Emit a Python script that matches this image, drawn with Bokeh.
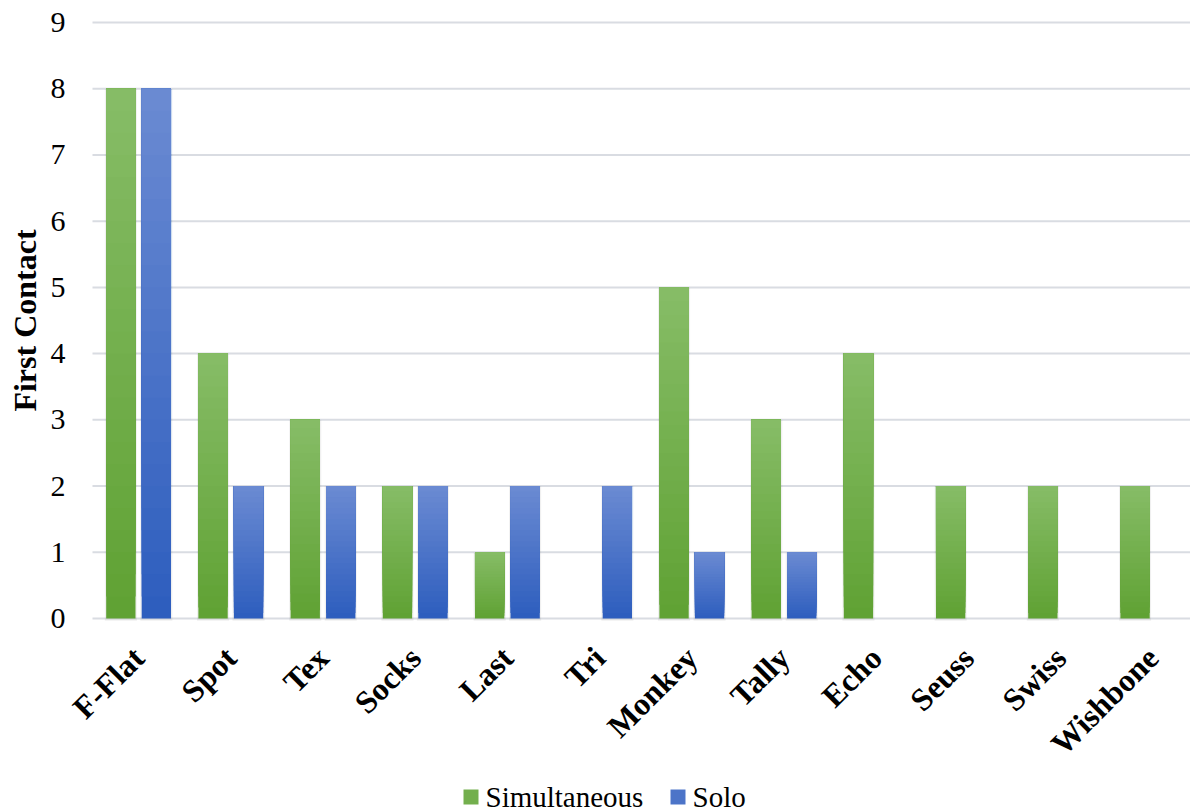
import math
import numpy as np
from bokeh.plotting import figure
from bokeh.models import Range1d, Label
from bokeh.embed import file_html
from bokeh.resources import INLINE

# ---- data ----
categories = ["F-Flat", "Spot", "Tex", "Socks", "Last", "Tri",
              "Monkey", "Tally", "Echo", "Seuss", "Swiss", "Wishbone"]
simultaneous = [8, 4, 3, 2, 1, 0, 5, 3, 4, 2, 2, 2]
solo = [8, 2, 2, 2, 2, 2, 1, 1, 0, 0, 0, 0]
y_ticks = [0, 1, 2, 3, 4, 5, 6, 7, 8, 9]
y_title = "First Contact"
series_names = ["Simultaneous", "Solo"]

# ---- style ----
W, H = 1190, 811
GRID_LEFT = 92          # screen x where the category area starts
TOP_PX = 22             # screen y of value 9
ZERO_PX = 618           # screen y of value 0
CAT_PX = 92.2
FONT = "Liberation Serif"
green_top, green_bot = (134, 188, 102), (96, 162, 52)
blue_top, blue_bot = (106, 138, 210), (46, 94, 190)
BAR_W = 0.318
OFFSET = 0.1925
N_STEPS = 24
TICK_LABEL_RIGHT = 65
TITLE_MID_X = 24
TITLE_MID_Y = 320
# legend layout (screen px)
LEG_SQ_X = [470.5, 677.5]
LEG_TXT_X = [485, 692]
LEG_SQ_Y = 796.5
LEG_TXT_MID_Y = 796

unit_px = (ZERO_PX - TOP_PX) / 9.0
y_start = -(H - ZERO_PX) / unit_px
y_end = 9 + TOP_PX / unit_px
x_start = -0.5 - GRID_LEFT / CAT_PX
x_end = x_start + W / CAT_PX


def px_x(px):
    return x_start + px / CAT_PX


def px_y(py):
    return (ZERO_PX - py) / unit_px


p = figure(width=W, height=H, x_range=Range1d(x_start, x_end), y_range=Range1d(y_start, y_end),
           output_backend="svg", toolbar_location=None,
           min_border_left=0, min_border_right=0, min_border_top=0, min_border_bottom=0)
p.outline_line_color = None
p.background_fill_color = "white"
p.border_fill_color = "white"
p.xgrid.grid_line_color = None
p.ygrid.grid_line_color = None
p.xaxis.visible = False
p.yaxis.visible = False

xs = np.arange(len(categories))

# horizontal gridlines at the value ticks
p.segment(x0=[-0.5] * len(y_ticks), y0=y_ticks, x1=[x_end] * len(y_ticks), y1=y_ticks,
          line_color="#d9dce2", line_width=2)

# value tick labels
for t in y_ticks:
    p.add_layout(Label(x=px_x(TICK_LABEL_RIGHT), y=t, text=str(t), text_align="right",
                       text_baseline="middle", text_font=FONT, text_font_size="30px",
                       text_color="black"))

# axis title
p.add_layout(Label(x=px_x(TITLE_MID_X), y=px_y(TITLE_MID_Y), text=y_title, angle=math.pi / 2,
                   text_align="center", text_baseline="middle", text_font=FONT,
                   text_font_style="bold", text_font_size="32px", text_color="black"))


def hexc(rgb):
    return "#%02x%02x%02x" % tuple(int(round(c)) for c in rgb)


mid_colors = []
for vals, off, ctop, cbot in [(simultaneous, -OFFSET, green_top, green_bot),
                              (solo, OFFSET, blue_top, blue_bot)]:
    v = np.array(vals, dtype=float)
    # soft shadow (only where a bar exists)
    p.vbar(x=xs + off, top=v, bottom=np.where(v > 0, -0.035, 0.0), width=BAR_W + 0.03,
           fill_color="#000000", fill_alpha=0.06, line_color=None)
    for k in range(N_STEPS):
        t = k / (N_STEPS - 1)
        col = tuple(cbot[i] + (ctop[i] - cbot[i]) * t for i in range(3))
        p.vbar(x=xs + off, top=v, bottom=v * k / N_STEPS, width=BAR_W,
               fill_color=hexc(col), line_color=None)
    mid_colors.append(hexc(tuple((ctop[i] + cbot[i]) / 2 for i in range(3))))

# category labels, rotated 45 degrees
for xi, name in zip(xs, categories):
    p.add_layout(Label(x=float(xi), y=px_y(ZERO_PX + 34), text=name, angle=math.pi / 4,
                       text_align="right", text_baseline="middle",
                       text_font=FONT, text_font_style="bold", text_font_size="32px",
                       text_color="black"))

# legend at the bottom
for sx, tx, name, col in zip(LEG_SQ_X, LEG_TXT_X, series_names, mid_colors):
    p.rect(x=px_x(sx), y=px_y(LEG_SQ_Y), width=15, height=15,
           width_units="screen", height_units="screen", fill_color=col, line_color=None)
    p.add_layout(Label(x=px_x(tx), y=px_y(LEG_TXT_MID_Y), text=name, text_align="left",
                       text_baseline="middle", text_font=FONT, text_font_size="29px",
                       text_color="black"))

open("out.html", "w").write(file_html(p, INLINE))
